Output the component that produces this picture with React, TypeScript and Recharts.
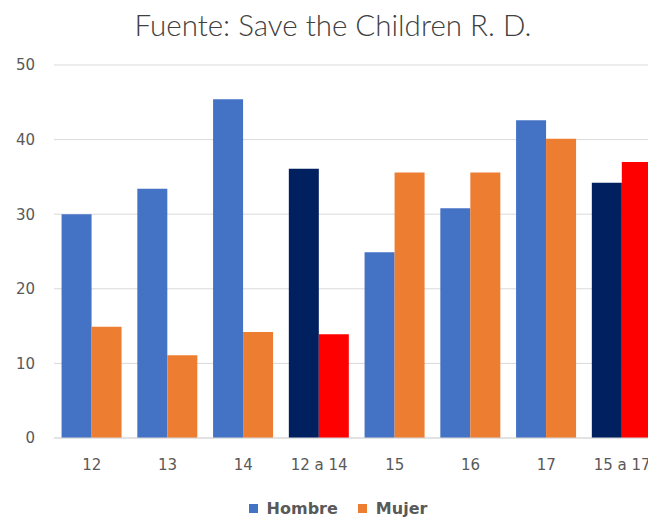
import { BarChart, Bar, XAxis, YAxis, CartesianGrid, Cell } from "recharts";

const categories = ["12", "13", "14", "12 a 14", "15", "16", "17", "15 a 17"];
const hombre = [30.0, 33.4, 45.4, 36.1, 24.9, 30.8, 42.6, 34.2];
const mujer = [14.9, 11.1, 14.2, 13.9, 35.6, 35.6, 40.1, 37.0];
const yTicks = [0, 10, 20, 30, 40, 50];
// age-range totals get their own colours
const totalRows = ["12 a 14", "15 a 17"];

const COLORS = {
  hombre: "#4472C4",
  mujer: "#ED7D31",
  hombreTotal: "#002060",
  mujerTotal: "#FF0000",
};

const TICK_FONT = { fontSize: 15, fill: "#595959", fontFamily: "'DejaVu Sans', sans-serif" };

const data = categories.map((c, i) => ({ cat: c, Hombre: hombre[i], Mujer: mujer[i] }));

function LegendBox() {
  const items = [
    { label: "Hombre", color: COLORS.hombre },
    { label: "Mujer", color: COLORS.mujer },
  ];
  return (
    <div
      style={{
        position: "absolute",
        left: 0,
        top: 498,
        width: 676,
        height: 20,
        display: "flex",
        justifyContent: "center",
        alignItems: "center",
        gap: 20,
      }}
    >
      {items.map((it) => (
        <div key={it.label} style={{ display: "flex", alignItems: "center", gap: 9 }}>
          <span style={{ width: 9, height: 9, background: it.color, display: "inline-block" }} />
          <span style={{ fontSize: 16, fontWeight: 700, color: "#595959", fontFamily: "'DejaVu Sans', sans-serif" }}>
            {it.label}
          </span>
        </div>
      ))}
    </div>
  );
}

export default function App() {
  return (
    <div
      style={{
        position: "absolute",
        left: 0,
        top: 0,
        width: 648,
        height: 518,
        overflow: "hidden",
        background: "#fff",
      }}
    >
      <div
        style={{
          position: "absolute",
          left: 0,
          top: 7,
          width: 666,
          textAlign: "center",
          fontFamily: "Lato, 'Noto Sans', sans-serif",
          fontWeight: 300,
          fontSize: 29.5,
          color: "#404040",
          whiteSpace: "nowrap",
        }}
      >
        Fuente: Save the Children R. D.
      </div>
      <BarChart
        width={680}
        height={518}
        data={data}
        margin={{ top: 65, right: 20, bottom: 0, left: 0 }}
        barCategoryGap="10%"
        barGap={0}
      >
        <CartesianGrid vertical={false} stroke="#D9D9D9" />
        <XAxis
          dataKey="cat"
          height={80}
          tickSize={0}
          tickMargin={21}
          axisLine={{ stroke: "#D9D9D9" }}
          tick={TICK_FONT}
        />
        <YAxis
          domain={[0, 50]}
          ticks={yTicks}
          width={54}
          tickSize={0}
          tickMargin={19}
          axisLine={false}
          tickLine={false}
          tick={TICK_FONT}
        />
        <Bar dataKey="Hombre" fill={COLORS.hombre} isAnimationActive={false}>
          {data.map((d) => (
            <Cell key={d.cat} fill={totalRows.includes(d.cat) ? COLORS.hombreTotal : COLORS.hombre} />
          ))}
        </Bar>
        <Bar dataKey="Mujer" fill={COLORS.mujer} isAnimationActive={false}>
          {data.map((d) => (
            <Cell key={d.cat} fill={totalRows.includes(d.cat) ? COLORS.mujerTotal : COLORS.mujer} />
          ))}
        </Bar>
      </BarChart>
      <LegendBox />
    </div>
  );
}
